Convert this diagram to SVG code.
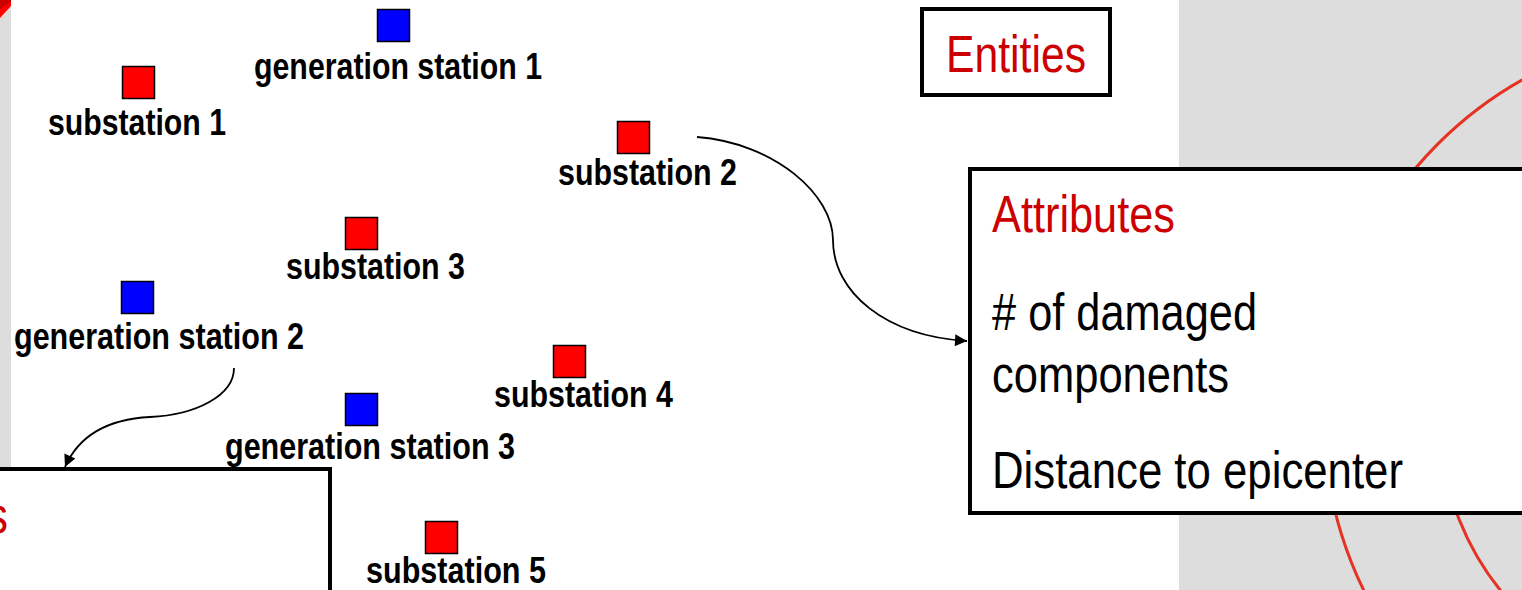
<svg xmlns="http://www.w3.org/2000/svg" width="1522" height="590" viewBox="0 0 1522 590">
<style>
.bg{fill:#dddddd}
.sub{fill:#ff0000;stroke:#000;stroke-width:1.5}
.gen{fill:#0000ff;stroke:#000;stroke-width:1.5}
.lbl{font-family:"Liberation Sans",Arial,sans-serif;font-weight:bold;font-size:36px;fill:#000}
.box{fill:#fff;stroke:#000;stroke-width:4}
.title{font-family:"Liberation Sans",Arial,sans-serif;font-size:52px;fill:#cc0000}
.body{font-family:"Liberation Sans",Arial,sans-serif;font-size:52px;fill:#000}
.arc{fill:none;stroke:#e53222;stroke-width:3}
.conn{fill:none;stroke:#000;stroke-width:1.8}
</style>
<defs>
<marker id="ah2" viewBox="0 0 10 10" refX="10" refY="5" markerWidth="16" markerHeight="12" markerUnits="userSpaceOnUse" orient="auto">
<path d="M0,0 L10,5 L0,10 z" fill="#000"/>
</marker>
</defs>
<rect width="1522" height="590" fill="#fff"/>
<g id="background">
<rect class="bg" x="0" y="0" width="11" height="467"/>
<polygon points="0,0 11,0 11,6 0,18" fill="#ff0000"/>
<polygon points="0,0 11,0 11,2 0,9" fill="#cc0000"/>
<rect class="bg" x="1179" y="0" width="343" height="590"/>
<circle class="arc" cx="1713" cy="419" r="389"/>
<circle class="arc" cx="1713" cy="419" r="273"/>
</g>
<g id="connectors">
<path class="conn" d="M697,137 C775,143 833,195 833,240 C833,292 885,336 967,341" marker-end="url(#ah2)"/>
<path class="conn" d="M234,368 C234,396 195,415 150,417 C110,419 80,433 65,467" marker-end="url(#ah2)"/>
</g>
<g id="entities-box">
<rect class="box" x="922" y="9" width="188" height="86"/>
<text class="title" x="946" y="72" textLength="140" lengthAdjust="spacingAndGlyphs">Entities</text>
</g>
<g id="attributes-box">
<rect class="box" x="970" y="169" width="600" height="344"/>
<text class="title" x="992" y="232" textLength="183" lengthAdjust="spacingAndGlyphs">Attributes</text>
<text class="body" x="992" y="330" textLength="265" lengthAdjust="spacingAndGlyphs"># of damaged</text>
<text class="body" x="992" y="392" textLength="237" lengthAdjust="spacingAndGlyphs">components</text>
<text class="body" x="992" y="488" textLength="411" lengthAdjust="spacingAndGlyphs">Distance to epicenter</text>
</g>
<g id="attributes-box-left">
<rect class="box" x="-10" y="469" width="340" height="200"/>
<text class="title" x="-14" y="533" textLength="22" lengthAdjust="spacingAndGlyphs">s</text>
</g>
<g id="generation-station-1">
<rect class="gen" x="377.5" y="9.5" width="32" height="32"/>
<text class="lbl" x="254" y="79" textLength="288" lengthAdjust="spacingAndGlyphs">generation station 1</text>
</g>
<g id="substation-1">
<rect class="sub" x="122.5" y="66.5" width="32" height="32"/>
<text class="lbl" x="48" y="135" textLength="178" lengthAdjust="spacingAndGlyphs">substation 1</text>
</g>
<g id="substation-2">
<rect class="sub" x="617.5" y="121.5" width="32" height="32"/>
<text class="lbl" x="558" y="185" textLength="179" lengthAdjust="spacingAndGlyphs">substation 2</text>
</g>
<g id="substation-3">
<rect class="sub" x="345.5" y="217.5" width="32" height="32"/>
<text class="lbl" x="286" y="279" textLength="179" lengthAdjust="spacingAndGlyphs">substation 3</text>
</g>
<g id="generation-station-2">
<rect class="gen" x="121.5" y="281.5" width="32" height="32"/>
<text class="lbl" x="14" y="349" textLength="290" lengthAdjust="spacingAndGlyphs">generation station 2</text>
</g>
<g id="substation-4">
<rect class="sub" x="553.5" y="345.5" width="32" height="32"/>
<text class="lbl" x="494" y="407" textLength="179" lengthAdjust="spacingAndGlyphs">substation 4</text>
</g>
<g id="generation-station-3">
<rect class="gen" x="345.5" y="393.5" width="32" height="32"/>
<text class="lbl" x="225" y="459" textLength="290" lengthAdjust="spacingAndGlyphs">generation station 3</text>
</g>
<g id="substation-5">
<rect class="sub" x="425.5" y="521.5" width="32" height="32"/>
<text class="lbl" x="366" y="583" textLength="180" lengthAdjust="spacingAndGlyphs">substation 5</text>
</g>
</svg>
